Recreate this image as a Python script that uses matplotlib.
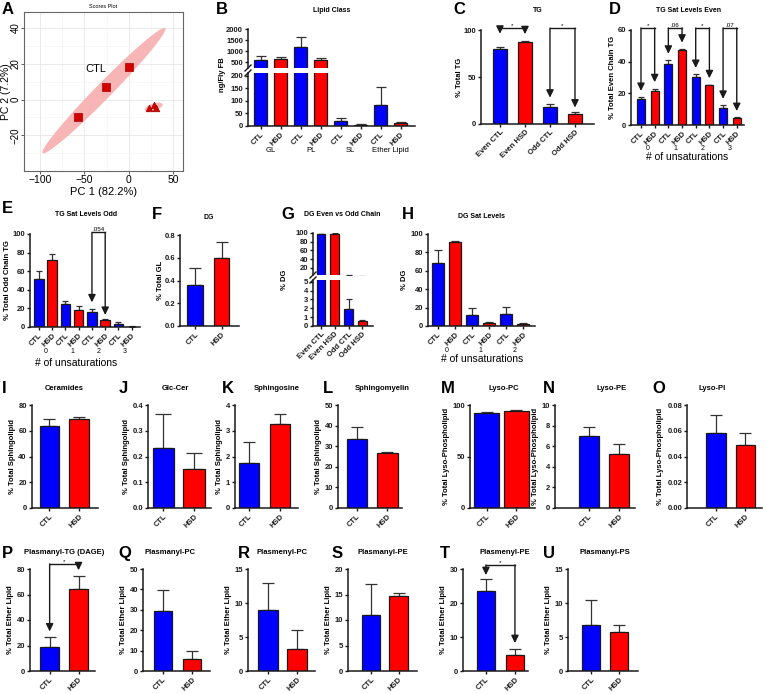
import numpy as np
import matplotlib.pyplot as plt

W, H = 766, 694
BLUE = '#0000ff'
RED = '#ff0000'
INK = '#1a1a1a'

plt.rcParams['font.family'] = ['Liberation Sans', 'DejaVu Sans']

# ---------------- data ----------------
# A: PCA scores
pca_ctl_x = [-57, -26, 0]
pca_ctl_y = [-10, 7, 18]
pca_hsd_x = [23, 28, 31]
pca_hsd_y = [-5, -3, -4.5]
ctl_ell_center = (-28, 5)
ctl_ell_major = (69, 35)
ctl_ell_minor = (-6.4, 3.1)
hsd_ell_center = (28, -4.2)
hsd_ell_major = (10, 1.5)
hsd_ell_minor = (-1.1, 1.9)

pair = ['CTL', 'HSD']

# B: lipid class (ng/fly FB)
b_groups = ['GL', 'PL', 'SL', 'Ether Lipid']
b_mean = [600, 660, 1200, 600, 18, 3, 85, 12]
b_hi = [780, 760, 1620, 700, 32, 6, 155, 15]

# C: TG even/odd
c_labels = ['Even CTL', 'Even HSD', 'Odd CTL', 'Odd HSD']
c_mean = [80, 87.5, 18.5, 11]
c_hi = [82, 88.5, 21, 12.5]

# D: TG sat levels even
d_mean = [16.5, 21.5, 38.5, 47.5, 30.5, 25, 10.5, 4.5]
d_hi = [17.5, 23, 41, 48, 32, 25.5, 12.5, 4.8]

# E: TG sat levels odd
e_mean = [52, 72, 25, 18, 16.5, 7, 3, 0.5]
e_hi = [60, 78, 28, 22.5, 19.5, 9, 5, 1]

# F: DG
f_mean = [0.36, 0.60]
f_hi = [0.51, 0.74]

# G: DG even vs odd chain
g_labels = ['Even CTL', 'Even HSD', 'Odd CTL', 'Odd HSD']
g_mean = [97, 98, 1.9, 0.55]
g_hi = [98, 98.5, 3.0, 0.65]

# H: DG sat levels
h_mean = [68, 91, 12.5, 3.5, 13, 2.5]
h_hi = [83, 92.5, 20, 4.5, 20.5, 3.5]

# I-O: sphingolipids and lyso-phospholipids
i_mean, i_hi = [63.5, 69], [69, 70.5]
j_mean, j_hi = [0.233, 0.15], [0.365, 0.215]
k_mean, k_hi = [1.75, 3.25], [2.55, 3.65]
l_mean, l_hi = [33.5, 26.5], [39.5, 27]
m_mean, m_hi = [92, 94], [93.5, 95.5]
n_mean, n_hi = [7.0, 5.2], [7.9, 6.2]
o_mean, o_hi = [0.058, 0.049], [0.072, 0.058]

# P-U: ether lipids
p_mean, p_hi = [19, 64.5], [27, 74.5]
q_mean, q_hi = [29.5, 6], [39.5, 10]
r_mean, r_hi = [8.9, 3.3], [13, 6]
s_mean, s_hi = [11, 14.8], [17, 15.2]
t_mean, t_hi = [23.5, 4.7], [27.2, 6.5]
u_mean, u_hi = [6.8, 5.7], [10.4, 6.8]

fig = plt.figure(figsize=(W / 100, H / 100), dpi=100)


def px_ax(l, t, r, b):
    return fig.add_axes([l / W, 1 - b / H, (r - l) / W, (b - t) / H])


def ftext(x, y, s, **kw):
    return fig.text(x / W, 1 - y / H, s, **kw)


def style(ax, fs=5.5):
    for s in ['top', 'right']:
        ax.spines[s].set_visible(False)
    for s in ['left', 'bottom']:
        ax.spines[s].set_linewidth(1.1)
        ax.spines[s].set_color(INK)
    ax.tick_params(direction='out', length=2.5, width=1, labelsize=fs, pad=1, colors=INK)
    for lab in ax.get_yticklabels():
        lab.set_fontweight('bold')


def draw_bars(ax, mean, hi, colors, width, cap):
    x = np.arange(len(mean))
    mean = np.array(mean)
    hi = np.array(hi)
    ax.errorbar(x, mean, yerr=[np.zeros(len(mean)), hi - mean], fmt='none',
                ecolor='#333333', elinewidth=0.9, capsize=cap, capthick=0.9, zorder=1)
    ax.bar(x, mean, width, color=colors, edgecolor=INK, linewidth=0.9, zorder=2)


def xlabels(ax, labels, fs=5.5):
    ax.set_xticks(np.arange(len(labels)))
    ax.set_xticklabels(labels, rotation=45, ha='right', va='top',
                       rotation_mode='anchor', fontsize=fs, fontweight='bold')


def bar_panel(box, xlim, width, mean, hi, ylim, yticks, ylab, ylab_x=None,
              labels=None, colors=None, ytl=None, fs=5.5, xfs=5.5, cap=3):
    ax = px_ax(*box)
    if colors is None:
        colors = [BLUE, RED] * (len(mean) // 2)
    draw_bars(ax, mean, hi, colors, width, cap)
    ax.set_xlim(xlim)
    ax.set_ylim(ylim)
    ax.set_yticks(yticks)
    if ytl is not None:
        ax.set_yticklabels(ytl)
    xlabels(ax, labels if labels else pair * (len(mean) // 2), xfs)
    style(ax, fs)
    if ylab_x is None:
        ax.set_ylabel(ylab, fontsize=fs, fontweight='bold', labelpad=2)
    else:
        ftext(ylab_x, (box[1] + box[3]) / 2, ylab, rotation=90, ha='center',
              va='center', fontsize=fs, fontweight='bold')
    return ax


def bracket(ax, i, j, top, tip_i, tip_j, txt):
    kw = dict(arrowprops=dict(arrowstyle='-|>,head_length=0.45,head_width=0.22',
                              color=INK, lw=1, shrinkA=0, shrinkB=0),
              annotation_clip=False)
    ax.plot([i, j], [top, top], color=INK, lw=1, clip_on=False)
    ax.annotate('', xy=(i, tip_i), xytext=(i, top), **kw)
    ax.annotate('', xy=(j, tip_j), xytext=(j, top), **kw)
    ax.text((i + j) / 2, top, txt, ha='center', va='bottom', fontsize=4.5)


def under(ax, x, txt, off_px, fs=5, weight='normal'):
    ax.annotate(txt, xy=(x, 0), xycoords=ax.get_xaxis_transform(),
                xytext=(0, -off_px * 0.72), textcoords='offset points',
                ha='center', va='center', fontsize=fs, fontweight=weight,
                annotation_clip=False)


def break_marks(ax_top, ax_bot):
    for ax, y in [(ax_top, 0), (ax_bot, 1)]:
        bb = ax.get_position()
        dx = 3 / (bb.width * W)
        dy = 3 / (bb.height * H)
        ax.plot([-dx, dx], [y - dy, y + dy], transform=ax.transAxes,
                color=INK, lw=1, clip_on=False)


# ---------------- A: PCA ----------------
ax = px_ax(24, 12, 183, 171)
t = np.linspace(0, 2 * np.pi, 200)
for c, a, b in [(ctl_ell_center, ctl_ell_major, ctl_ell_minor),
                (hsd_ell_center, hsd_ell_major, hsd_ell_minor)]:
    ex = c[0] + np.cos(t) * a[0] + np.sin(t) * b[0]
    ey = c[1] + np.cos(t) * a[1] + np.sin(t) * b[1]
    ax.fill(ex, ey, color='#f7b5b5', lw=0, zorder=1)
ax.scatter(pca_ctl_x, pca_ctl_y, marker='s', s=26, color='#d40000',
           edgecolor='#a00000', linewidth=0.5, zorder=3)
ax.scatter(pca_hsd_x, pca_hsd_y, marker='^', s=22, color='#d40000',
           edgecolor='#a00000', linewidth=0.5, zorder=3)
ax.text(-37, 17, 'CTL', fontsize=8, ha='center', va='center')
ax.set_xlim(-118, 61)
ax.set_ylim(-40, 49)
ax.set_xticks([-100, -50, 0, 50])
ax.set_xticks([-75, -25, 25], minor=True)
ax.set_yticks([-20, 0, 20, 40])
ax.set_yticks([-30, -10, 10, 30], minor=True)
ax.grid(which='major', color='#e6e6e6', lw=0.6)
ax.grid(which='minor', color='#f3f3f3', lw=0.4)
ax.set_axisbelow(True)
for s in ax.spines.values():
    s.set_color('#666666')
    s.set_linewidth(0.8)
ax.tick_params(which='major', length=2, width=0.6, labelsize=7.5, color='#444444', pad=1.2)
ax.tick_params(axis='y', labelsize=7, pad=0.6)
ax.tick_params(which='minor', length=0)
ax.tick_params(axis='y', labelrotation=90)
for lab in ax.get_yticklabels():
    lab.set_va('center')
ax.set_xlabel('PC 1 (82.2%)', fontsize=8, labelpad=1)
ax.set_ylabel('PC 2 (7.2%)', fontsize=7.5)
ax.yaxis.set_label_coords((11 - 24) / 159, 0.5)
ftext(103, 6, 'Scores Plot', fontsize=4, ha='center', va='center')

# ---------------- B: lipid class (broken axis) ----------------
bcol = [BLUE, RED] * 4
bx = (-0.635, 7.715)
axu = px_ax(248, 29, 415, 68)
draw_bars(axu, b_mean, b_hi, bcol, 0.65, 3.5)
axu.set_xlim(bx)
axu.set_ylim(250, 2000)
axu.set_yticks([500, 1000, 1500, 2000])
style(axu, 5.5)
axu.spines['bottom'].set_visible(False)
axu.set_xticks([])
axl = px_ax(248, 73, 415, 126)
draw_bars(axl, b_mean, b_hi, bcol, 0.65, 3.5)
axl.set_xlim(bx)
axl.set_ylim(0, 210)
axl.set_yticks([0, 50, 100, 150, 200])
xlabels(axl, pair * 4, 5.2)
style(axl, 5.5)
break_marks(axu, axl)
for k, g in enumerate(b_groups):
    under(axl, 2 * k + 0.5, g, 25, fs=5.5)
ftext(222, 75, 'ng/Fly FB', rotation=90, ha='center', va='center', fontsize=5.5, fontweight='bold')
ftext(332, 11, 'Lipid Class', ha='center', va='center', fontsize=5, fontweight='bold')

# ---------------- C: TG ----------------
ax = bar_panel((480.7, 30, 594, 124), (-0.77, 3.76), 0.56, c_mean, c_hi,
               (0, 100), [0, 50, 100], '% Total TG', 459, labels=c_labels, cap=3)
bracket(ax, 0, 1, 102, c_hi[0] + 14, c_hi[1] + 7, '*')
bracket(ax, 2, 3, 102, c_hi[2] + 7, c_hi[3] + 5, '*')
ftext(538, 11, 'TG', ha='center', va='center', fontsize=5, fontweight='bold')

# ---------------- D: TG sat even ----------------
ax = bar_panel((631, 30, 744, 125), (-0.73, 7.53), 0.6, d_mean, d_hi,
               (0, 60), [0, 20, 40, 60], '% Total Even Chain TG', 613, xfs=5, cap=2.5)
for k, txt in enumerate(['*', '.06', '*', '.07']):
    i = 2 * k
    bracket(ax, i, i + 1, 61.3, d_hi[i] + 4, d_hi[i + 1] + 4, txt)
for k in range(4):
    under(ax, 2 * k + 0.5, str(k), 24)
ftext(687, 157, '# of unsaturations', ha='center', va='center', fontsize=7.5)
ftext(689, 11, 'TG Sat Levels Even', ha='center', va='center', fontsize=5, fontweight='bold')

# ---------------- E: TG sat odd ----------------
ax = bar_panel((30, 234, 140, 327), (-0.68, 7.63), 0.72, e_mean, e_hi,
               (0, 100), [0, 20, 40, 60, 80, 100], '% Total Odd Chain TG', 8, xfs=5, cap=2.5)
bracket(ax, 4, 5, 101.7, e_hi[4] + 7, e_hi[5] + 4, '.054')
for k in range(4):
    under(ax, 2 * k + 0.5, str(k), 25)
ftext(76, 363, '# of unsaturations', ha='center', va='center', fontsize=7.5)
ftext(86, 215, 'TG Sat Levels Odd', ha='center', va='center', fontsize=5, fontweight='bold')

# ---------------- F: DG ----------------
bar_panel((180, 235, 239, 326), (-0.57, 1.66), 0.6, f_mean, f_hi,
          (0, 0.8), [0, 0.2, 0.4, 0.6, 0.8], '% Total GL', 160,
          ytl=['0.0', '0.2', '0.4', '0.6', '0.8'], cap=4)
ftext(209, 217, 'DG', ha='center', va='center', fontsize=5, fontweight='bold')

# ---------------- G: DG even vs odd (broken axis) ----------------
gcol = [BLUE, RED, BLUE, RED]
gx = (-0.58, 3.75)
axu = px_ax(313, 232.7, 372.7, 275)
draw_bars(axu, g_mean, g_hi, gcol, 0.65, 2.5)
axu.set_xlim(gx)
axu.set_ylim(4, 100)
axu.set_yticks([20, 40, 60, 80, 100])
style(axu, 5.5)
axu.spines['bottom'].set_visible(False)
axu.set_xticks([])
axl = px_ax(313, 280, 372.7, 326)
draw_bars(axl, g_mean, g_hi, gcol, 0.65, 2.5)
axl.set_xlim(gx)
axl.set_ylim(0, 5.2)
axl.set_yticks([0, 1, 2, 3, 4, 5])
xlabels(axl, g_labels)
style(axl, 5.5)
break_marks(axu, axl)
ftext(284, 280, '% DG', rotation=90, ha='center', va='center', fontsize=5.5, fontweight='bold')
ftext(342, 215, 'DG Even vs Odd Chain', ha='center', va='center', fontsize=5, fontweight='bold')

# ---------------- H: DG sat levels ----------------
ax = bar_panel((428, 234, 535, 326), (-0.59, 5.69), 0.7, h_mean, h_hi,
               (0, 100), [0, 20, 40, 60, 80, 100], '% DG', 404, xfs=5, cap=3)
for k in range(3):
    under(ax, 2 * k + 0.5, str(k), 24)
ftext(482, 359, '# of unsaturations', ha='center', va='center', fontsize=7.5)
ftext(481, 216, 'DG Sat Levels', ha='center', va='center', fontsize=5, fontweight='bold')

# ---------------- I-O ----------------
r3 = (405, 508)
bar_panel((31.7, r3[0], 98, r3[1]), (-0.59, 1.63), 0.65, i_mean, i_hi,
          (0, 80), [0, 20, 40, 60, 80], '% Total Sphingolipid', cap=4.5)
bar_panel((148.3, r3[0], 211, r3[1]), (-0.49, 1.55), 0.69, j_mean, j_hi,
          (0, 0.4), [0, 0.1, 0.2, 0.3, 0.4], '% Total Sphingolipid',
          ytl=['0.0', '0.1', '0.2', '0.3', '0.4'], cap=6)
bar_panel((235, r3[0], 298, r3[1]), (-0.45, 1.58), 0.65, k_mean, k_hi,
          (0, 4), [0, 1, 2, 3, 4], '% Total Sphingolipid', cap=4.5)
bar_panel((338, r3[0], 401.7, r3[1]), (-0.62, 1.47), 0.67, l_mean, l_hi,
          (0, 50), [0, 10, 20, 30, 40, 50], '% Total Sphingolipid', cap=4.5)
bar_panel((470, r3[0], 535, r3[1]), (-0.56, 1.63), 0.85, m_mean, m_hi,
          (0, 100), [0, 50, 100], '% Total Lyso-Phospholipid', cap=4.5)
bar_panel((555, r3[0], 635, r3[1]), (-1.13, 1.53), 0.67, n_mean, n_hi,
          (0, 10), [0, 2, 4, 6, 8, 10], '% Total Lyso-Phospholipid', cap=4.5)
bar_panel((687, r3[0], 762, r3[1]), (-0.98, 1.56), 0.66, o_mean, o_hi,
          (0, 0.08), [0, 0.02, 0.04, 0.06, 0.08], '% Total Lyso-Phospholipid',
          ytl=['0.00', '0.02', '0.04', '0.06', '0.08'], cap=4.5)

# ---------------- P-U ----------------
r4 = (569, 671)
ax = bar_panel((30, r4[0], 95, r4[1]), (-0.68, 1.57), 0.67, p_mean, p_hi,
               (0, 80), [0, 20, 40, 60, 80], '% Total Ether Lipid', cap=4.5)
bracket(ax, 0, 1, 84, p_hi[0] + 4, p_hi[1] + 4.5, '*')
bar_panel((143, r4[0], 210, r4[1]), (-0.69, 1.62), 0.65, q_mean, q_hi,
          (0, 50), [0, 10, 20, 30, 40, 50], '% Total Ether Lipid', cap=4.5)
bar_panel((248, r4[0], 315, r4[1]), (-0.7, 1.63), 0.68, r_mean, r_hi,
          (0, 15), [0, 5, 10, 15], '% Total Ether Lipid', cap=4.5)
bar_panel((348.3, r4[0], 416.7, r4[1]), (-0.83, 1.66), 0.67, s_mean, s_hi,
          (0, 20), [0, 5, 10, 15, 20], '% Total Ether Lipid', cap=4.5)
ax = bar_panel((463.3, r4[0], 528, r4[1]), (-0.78, 1.45), 0.64, t_mean, t_hi,
               (0, 30), [0, 10, 20, 30], '% Total Ether Lipid', cap=4.5)
bracket(ax, 0, 1, 31.2, t_hi[0] + 1, t_hi[1] + 1.7, '*')
bar_panel((568.3, r4[0], 638, r4[1]), (-0.81, 1.67), 0.65, u_mean, u_hi,
          (0, 15), [0, 5, 10, 15], '% Total Ether Lipid', cap=4.5)

# ---------------- titles & letters ----------------
titles = [(64, 388, 'Ceramides'), (175, 388, 'Glc-Cer'), (277, 388, 'Sphingosine'),
          (382, 388, 'Sphingomyelin'), (504, 388, 'Lyso-PC'), (612, 388, 'Lyso-PE'),
          (712, 388, 'Lyso-PI'), (64, 553, 'Plasmanyl-TG (DAGE)'), (170, 553, 'Plasmanyl-PC'),
          (282, 553, 'Plasmenyl-PC'), (383, 553, 'Plasmanyl-PE'), (505, 553, 'Plasmenyl-PE'),
          (605, 553, 'Plasmanyl-PS')]
for x, y, s in titles:
    ftext(x, y, s, ha='center', va='center', fontsize=5.5, fontweight='bold')

letters = [(2, 2, 'A'), (216, 2, 'B'), (453, 2, 'C'), (609, 2, 'D'),
           (2, 201, 'E'), (152, 207, 'F'), (281, 207, 'G'), (402, 207, 'H'),
           (2, 381, 'I'), (119, 381, 'J'), (222, 381, 'K'), (323, 381, 'L'),
           (441, 381, 'M'), (543, 381, 'N'), (652, 381, 'O'),
           (2, 546, 'P'), (118, 546, 'Q'), (238, 546, 'R'), (332, 546, 'S'),
           (440, 546, 'T'), (543, 546, 'U')]
for x, y, s in letters:
    ftext(x, y, s, ha='left', va='top', fontsize=12, fontweight='bold')

fig.savefig('out.png', dpi=100)
